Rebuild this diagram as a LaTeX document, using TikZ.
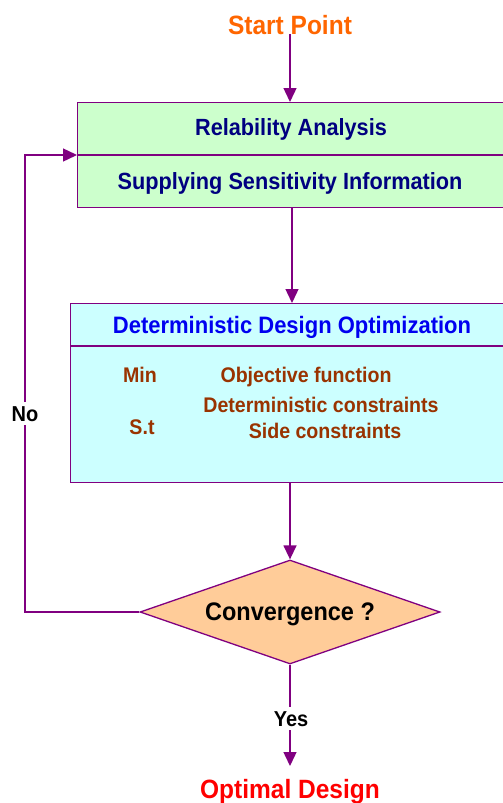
\documentclass[tikz,border=0pt]{standalone}
\usepackage{fontspec}
\usepackage{graphicx}
\setmainfont{Liberation Sans}
\usetikzlibrary{arrows.meta,shapes.geometric}
\definecolor{flowline}{RGB}{128,0,128}
\definecolor{greenfill}{RGB}{204,255,204}
\definecolor{cyanfill}{RGB}{204,255,255}
\definecolor{diafill}{RGB}{255,204,153}
\definecolor{navytext}{RGB}{0,0,128}
\definecolor{bluetext}{RGB}{0,0,240}
\definecolor{browntext}{RGB}{153,51,0}
\definecolor{orangetext}{RGB}{255,102,0}
\newcommand{\fs}[1]{\fontsize{#1pt}{#1pt}\selectfont\bfseries}
% letters are set a little taller than their natural shape
\newcommand{\tall}[1]{\scalebox{1}[1.08]{#1}}
\tikzset{
  panel/.style={draw=flowline, line width=1.3pt, anchor=north west, inner sep=0pt},
  divider/.style={draw=flowline, line width=1.3pt},
  link/.style={draw=flowline, line width=1.4pt},
  arr/.style={link, -{Triangle[length=14pt,width=13pt]}},
  txt/.style={anchor=base, inner sep=0pt},
  head/.style={txt, font=\fs{21.7}, text=navytext},
  optitle/.style={txt, font=\fs{22}, text=bluetext},
  optext/.style={txt, font=\fs{19.6}, text=browntext},
  term/.style={txt, font=\fs{24.5}},
  tag/.style={anchor=base, font=\fs{20}, fill=white, inner xsep=2pt, inner ysep=4pt},
}
\begin{document}
\begin{tikzpicture}[x=1pt,y=-1pt]
\clip (0,0) rectangle (503,803);
\fill[white] (0,0) rectangle (503,803);

% start terminal
\node[term, text=orangetext] (start) at (290,34) {\tall{Start Point}};

% reliability panel
\node[panel, fill=greenfill, minimum width=440pt, minimum height=105pt] (green) at (77,102) {};
\coordinate (gsplitL) at (77,155);
\draw[divider] (gsplitL) -- (517,155);
\node[head] (rel) at (291,135) {\tall{Relability Analysis}};
\node[head] (sens) at (290,189) {\tall{Supplying Sensitivity Information}};

% optimisation panel
\node[panel, fill=cyanfill, minimum width=447pt, minimum height=179pt] (cyan) at (70,303) {};
\draw[divider] (70,346) -- (517,346);
\node[optitle] (ddo) at (292,333) {\tall{Deterministic Design Optimization}};
\node[optext] (min) at (140,382.5) {\tall{Min}};
\node[optext] (obj) at (306,382) {\tall{Objective function}};
\node[optext] (det) at (321,412.5) {\tall{Deterministic constraints}};
\node[optext] (st) at (142,434.5) {\tall{S.t}};
\node[optext] (side) at (325,438.5) {\tall{Side constraints}};

% decision
\node[shape=diamond, aspect=2.88, draw=flowline, line width=1.3pt, fill=diafill,
      minimum width=300pt, minimum height=104pt, inner sep=0pt] (conv) at (290,612) {};
\node[txt, font=\fs{23.5}] (convtext) at (290,620) {\tall{Convergence ?}};

% end terminal
\node[term, text=red] (opt) at (290,798) {\tall{Optimal Design}};

% branch labels
\node[tag] (yes) at (291,726) {\tall{Yes}};
\node[tag] (no) at (25,421) {\tall{No}};

% connectors
\draw[arr] (start.south) -- (start.south |- green.north);
\draw[arr] (292,207) -- (292,303);
\draw[arr] (290,482) -- (conv.north);
\coordinate (tipyes) at (290,766);
\draw[link] (conv.south) -- (conv.south |- yes.north);
\draw[arr] (yes.south -| tipyes) -- (tipyes);
\coordinate (loopA) at (25,612);
\coordinate (loopB) at (25,155);
\draw[link] (conv.west) -- (loopA) -- (no.south);
\draw[arr] (no.north) -- (loopB) -- (gsplitL);
\end{tikzpicture}
\end{document}
